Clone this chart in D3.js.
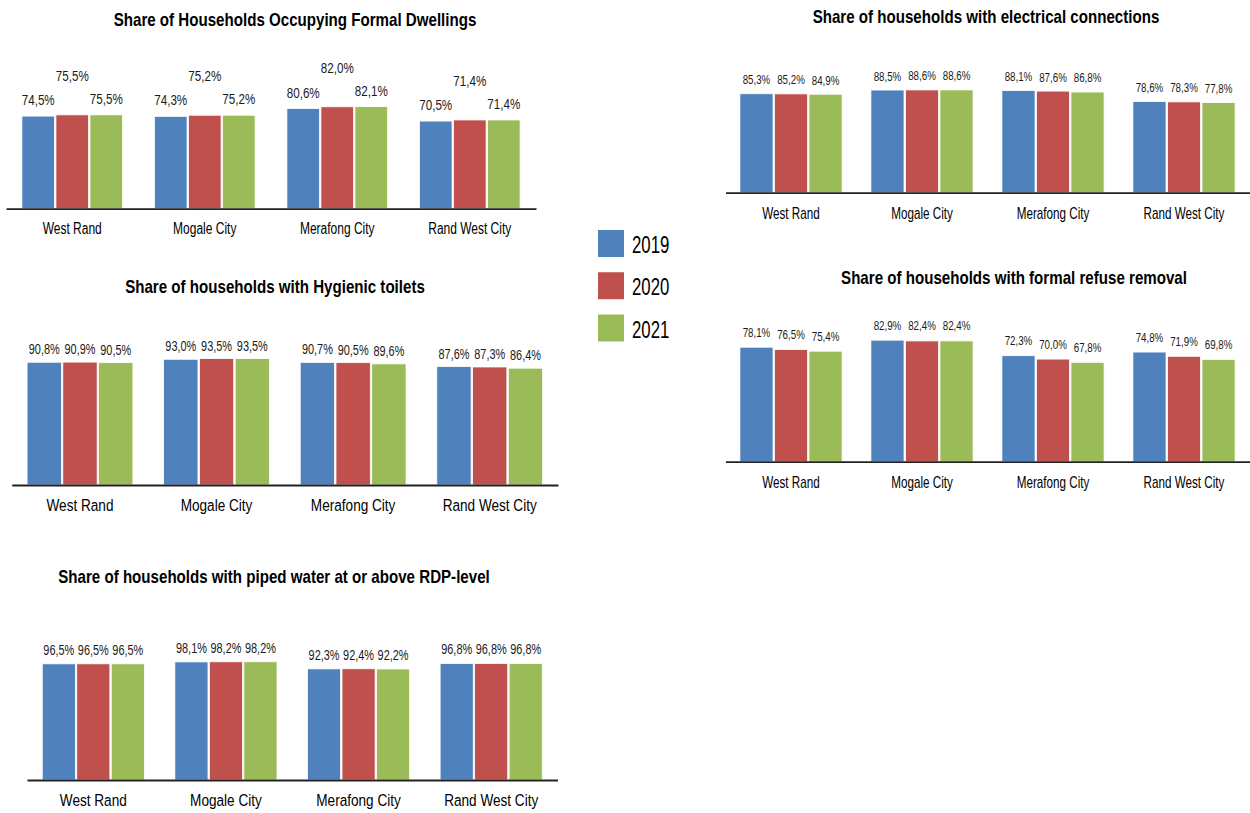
<!DOCTYPE html>
<html>
<head>
<meta charset="utf-8">
<script src="https://cdn.jsdelivr.net/npm/d3@7"></script>
<style>
  html, body { margin: 0; padding: 0; background: #ffffff; }
  svg { display: block; }
</style>
</head>
<body>
<svg id="chart" width="1250" height="813"></svg>
<script>
// ---------------- DATA ----------------
const categories = ["West Rand", "Mogale City", "Merafong City", "Rand West City"];
const years = ["2019", "2020", "2021"];

const chartTitles = [
  "Share of Households Occupying Formal Dwellings",
  "Share of households with electrical connections",
  "Share of households with Hygienic toilets",
  "Share of households with formal refuse removal",
  "Share of households with piped water at or above RDP-level"
];

// values per category: [2019, 2020, 2021]
const formalDwellings = [[74.5, 75.5, 75.5], [74.3, 75.2, 75.2], [80.6, 82.0, 82.1], [70.5, 71.4, 71.4]];
const electricalConnections = [[85.3, 85.2, 84.9], [88.5, 88.6, 88.6], [88.1, 87.6, 86.8], [78.6, 78.3, 77.8]];
const hygienicToilets = [[90.8, 90.9, 90.5], [93.0, 93.5, 93.5], [90.7, 90.5, 89.6], [87.6, 87.3, 86.4]];
const refuseRemoval = [[78.1, 76.5, 75.4], [82.9, 82.4, 82.4], [72.3, 70.0, 67.8], [74.8, 71.9, 69.8]];
const pipedWater = [[96.5, 96.5, 96.5], [98.1, 98.2, 98.2], [92.3, 92.4, 92.2], [96.8, 96.8, 96.8]];

// ---------------- STYLE / LAYOUT ----------------
const colors = ["#4F81BD", "#C0504D", "#9BBB59"];
const FONT = "'Liberation Sans', Arial, sans-serif";

const layouts = [
  { data: formalDwellings, x0: 6, x1: 536, base: 208.7, k: 1.243, tx: 295, ty: 20,
    lsize: 15.5, lsx: 0.75, loff: 16, stagger: 23, csize: 16, csx: 0.75, coff: 20, pad: 0.24 },
  { data: electricalConnections, x0: 725.5, x1: 1249.5, base: 192.7, k: 1.16, tx: 986, ty: 17,
    lsize: 12.5, lsx: 0.78, loff: 14, stagger: 0, csize: 16, csx: 0.73, coff: 21, pad: 0.22 },
  { data: hygienicToilets, x0: 11.7, x1: 558, base: 485, k: 1.352, tx: 275, ty: 287,
    lsize: 14, lsx: 0.78, loff: 12.5, stagger: 0, csize: 17, csx: 0.8, coff: 20, pad: 0.225 },
  { data: refuseRemoval, x0: 725.5, x1: 1249.5, base: 461.7, k: 1.466, tx: 1014, ty: 278,
    lsize: 12.5, lsx: 0.78, loff: 15, stagger: 0, csize: 16, csx: 0.73, coff: 21, pad: 0.22 },
  { data: pipedWater, x0: 27, x1: 557.5, base: 780, k: 1.204, tx: 274, ty: 577,
    lsize: 14, lsx: 0.78, loff: 13.5, stagger: 0, csize: 17, csx: 0.8, coff: 20, pad: 0.23 }
];
const TITLE_SIZE = 18, TITLE_SX = 0.84;

const locale = d3.formatLocale({ decimal: ",", thousands: ".", grouping: [3], currency: ["", ""] });
const fmt = v => locale.format(".1f")(v) + "%";

const svg = d3.select("#chart");

layouts.forEach((L, i) => {
  const g = svg.append("g");

  const x = d3.scaleBand().domain(categories).range([L.x0, L.x1])
    .paddingInner(L.pad).paddingOuter(L.pad / 2);
  const xi = d3.scaleBand().domain(years).range([0, x.bandwidth()]).paddingInner(0.04);
  const y = d3.scaleLinear().domain([0, 100]).range([L.base, L.base - 100 * L.k]);

  // title
  g.append("text")
    .attr("transform", `translate(${L.tx},${L.ty}) scale(${TITLE_SX},1)`)
    .attr("text-anchor", "middle").attr("dominant-baseline", "central")
    .style("font-family", FONT).style("font-weight", "bold").style("font-size", TITLE_SIZE + "px")
    .attr("fill", "#000")
    .text(chartTitles[i]);

  // groups
  const groups = g.selectAll("g.cat").data(categories).join("g")
    .attr("class", "cat")
    .attr("transform", c => `translate(${x(c)},0)`);

  const rows = (c, ci) => L.data[ci].map((v, yi) => ({ v, year: years[yi], yi }));

  groups.selectAll("rect").data(rows)
    .join("rect")
    .attr("x", d => xi(d.year))
    .attr("y", d => y(d.v))
    .attr("width", xi.bandwidth())
    .attr("height", d => y(0) - y(d.v))
    .attr("fill", d => colors[d.yi])
    .attr("stroke", "#ffffff").attr("stroke-width", 0.8);

  groups.selectAll("text.val").data(rows)
    .join("text")
    .attr("class", "val")
    .attr("transform", d => `translate(${xi(d.year) + xi.bandwidth() / 2},${y(d.v) - L.loff - (d.yi === 1 ? L.stagger : 0)}) scale(${L.lsx},1)`)
    .attr("text-anchor", "middle").attr("dominant-baseline", "central")
    .style("font-family", FONT).style("font-size", L.lsize + "px")
    .attr("fill", "#1a1a1a")
    .text(d => fmt(d.v));

  // axis
  const axis = g.append("g")
    .attr("transform", `translate(0,${L.base})`)
    .call(d3.axisBottom(x).tickSize(0).tickSizeOuter(0).tickPadding(L.coff));
  axis.select(".domain").attr("stroke", "#222").attr("stroke-width", 1.8);
  axis.selectAll(".tick text")
    .attr("dy", null).attr("dominant-baseline", "central")
    .attr("transform", `scale(${L.csx},1)`)
    .style("font-family", FONT).style("font-size", L.csize + "px").attr("fill", "#000");
});

// legend
const legend = svg.append("g");
const ly = d3.scalePoint().domain(years).range([243.5, 328]);
years.forEach((yr, i) => {
  legend.append("rect")
    .attr("x", 598).attr("y", ly(yr) - 13.5).attr("width", 26).attr("height", 27)
    .attr("fill", colors[i]);
  legend.append("text")
    .attr("transform", `translate(632,${ly(yr) + 1}) scale(0.7,1)`)
    .attr("dominant-baseline", "central")
    .style("font-family", FONT).style("font-size", "24px").attr("fill", "#000")
    .text(yr);
});
</script>
</body>
</html>
